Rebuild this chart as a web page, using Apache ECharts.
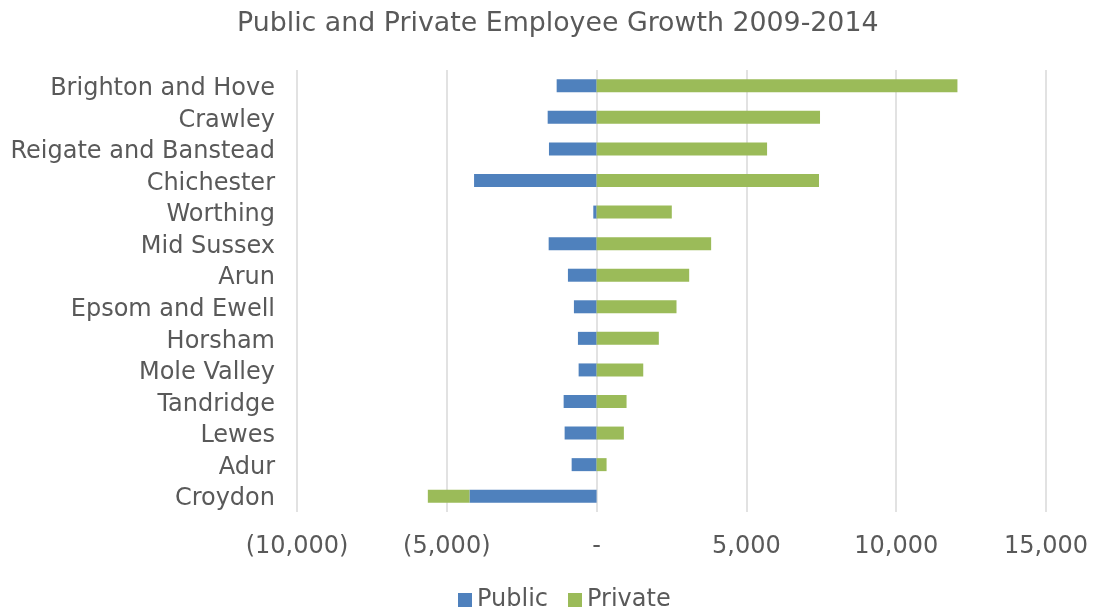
<!DOCTYPE html>
<html>
<head>
<meta charset="utf-8">
<script src="https://cdn.jsdelivr.net/npm/echarts@6/dist/echarts.min.js"></script>
<style>
html,body{margin:0;padding:0;background:#fff;}
#chart{width:1093px;height:609px;}
</style>
</head>
<body>
<div id="chart"></div>
<script>
const categories = ["Brighton and Hove","Crawley","Reigate and Banstead","Chichester","Worthing","Mid Sussex","Arun","Epsom and Ewell","Horsham","Mole Valley","Tandridge","Lewes","Adur","Croydon"];
const publicValues = [-1333,-1633,-1590,-4090,-110,-1600,-957,-757,-623,-600,-1100,-1067,-833,-4243];
const privateValues = [12044,7457,5690,7423,2510,3823,3090,2667,2077,1557,1000,910,333,-1390];
const seriesNames = ["Public","Private"];

const font = "'DejaVu Sans', Verdana, sans-serif";
function fmt(v){
  if (v === 0) return "-";
  const s = Math.abs(v).toLocaleString("en-US");
  return v < 0 ? "(" + s + ")" : s;
}
const chart = echarts.init(document.getElementById('chart'));
chart.setOption({
  animation:false,
  backgroundColor:'#ffffff',
  title:{text:'Public and Private Employee Growth 2009-2014',left:232,top:6,
    textStyle:{fontFamily:font,fontSize:26.8,fontWeight:'normal',color:'#595959'}},
  legend:{top:583,left:453,itemWidth:14,itemHeight:14,itemGap:20,icon:'rect',
    textStyle:{fontFamily:font,fontSize:24,color:'#595959',padding:[0,0,0,0]},data:seriesNames},
  grid:{left:297,right:47,top:70,bottom:97},
  xAxis:{type:'value',min:-10000,max:15000,interval:5000,
    axisLine:{show:false},axisTick:{show:false},
    splitLine:{lineStyle:{color:'#d9d9d9',width:1.5}},
    axisLabel:{formatter:fmt,margin:23,fontFamily:font,fontSize:24,color:'#595959'}},
  yAxis:{type:'category',data:categories,inverse:true,
    axisLine:{show:false},axisTick:{show:false},
    axisLabel:{margin:22,formatter:'{a|{value}}',
      rich:{a:{fontFamily:font,fontSize:24,color:'#595959',padding:[6,0,0,0]}}}},
  series:[
    {name:seriesNames[0],type:'bar',stack:'total',data:publicValues,barWidth:13,itemStyle:{color:'#4F81BD'}},
    {name:seriesNames[1],type:'bar',stack:'total',data:privateValues,barWidth:13,itemStyle:{color:'#9BBB59'}}
  ]
});
</script>
</body>
</html>
